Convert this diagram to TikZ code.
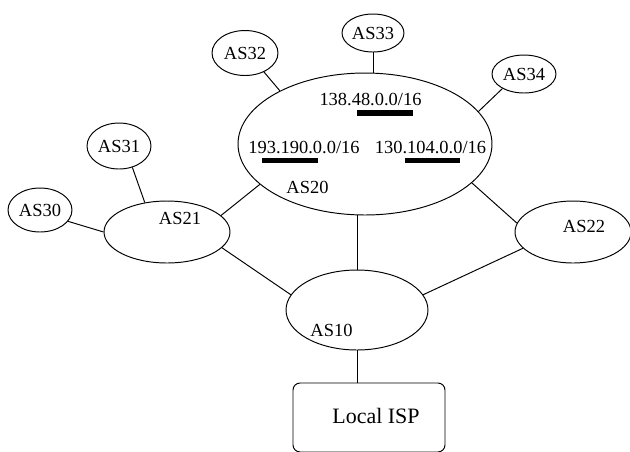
\documentclass[tikz,border=0pt]{standalone}
\usepackage{fontspec}
\setmainfont{Liberation Serif}
\usetikzlibrary{shapes.geometric}

\begin{document}
\begin{tikzpicture}[x=0.02cm,y=-0.02cm,line width=0.55pt,
  asnode/.style={draw,ellipse,inner sep=0pt,font=\fontsize{10.5}{12}\selectfont},
  aslabel/.style={anchor=base,inner sep=0pt,font=\fontsize{10.5}{12}\selectfont},
  prefixbar/.style={line width=3.4pt},
  ispbox/.style={draw,rectangle,rounded corners=4pt,minimum width=3.04cm,minimum height=1.38cm}]
\useasboundingbox (0,0) rectangle (630,451);

\node[asnode,minimum width=5.08cm,minimum height=2.84cm] (as20) at (365,144) {};
\node[asnode,minimum width=2.52cm,minimum height=1.24cm] (as21) at (167,232) {};
\node[asnode,minimum width=2.32cm,minimum height=1.24cm] (as22) at (573,232) {};
\node[asnode,minimum width=2.84cm,minimum height=1.6cm] (as10) at (357,310) {};
\node[asnode,minimum width=1.28cm,minimum height=0.88cm] (as30) at (40,210) {AS30};
\node[asnode,minimum width=1.28cm,minimum height=0.92cm] (as31) at (119,146) {AS31};
\node[asnode,minimum width=1.32cm,minimum height=0.9cm] (as32) at (245,53) {AS32};
\node[asnode,minimum width=1.24cm,minimum height=0.76cm] (as33) at (373,33) {AS33};
\node[asnode,minimum width=1.28cm,minimum height=0.76cm] (as34) at (524,74) {AS34};
\node[ispbox] (isp) at (369,417.5) {};

\node[aslabel] (lbl20) at (307.5,193) {AS20};
\node[aslabel] (lbl21) at (180,224) {AS21};
\node[aslabel] (lbl22) at (584,232) {AS22};
\node[aslabel] (lbl10) at (331.5,336) {AS10};
\node[anchor=base,inner sep=0pt,font=\fontsize{12.5}{15}\selectfont] (lblisp) at (376,423) {Local ISP};

\node[aslabel] (pfxa) at (370.5,105) {138.48.0.0/16};
\node[aslabel] (pfxb) at (304,153) {193.190.0.0/16};
\node[aslabel] (pfxc) at (430.5,153) {130.104.0.0/16};
\draw[prefixbar] (357,113) -- (413,113);
\draw[prefixbar] (262,160.5) -- (318,160.5);
\draw[prefixbar] (405,160.5) -- (460,160.5);

\draw (as32.-45) -- (as20.148);
\draw (as33.south) -- (as33.south |- as20.north);
\draw (as34.214) -- (as20.16);
\draw (as31.-58) -- (as21.127);
\draw (as30.-22) -- (as21.west);
\draw (as21.17) -- (as20.201);
\draw (as21.-16) -- (as10.167);
\draw (as10.north |- as20.south) -- (as10.north);
\draw (as20.-20) -- (as22.171);
\draw (as22.198) -- (as10.13);
\draw (as10.south) -- (as10.south |- isp.north);
\end{tikzpicture}
\end{document}
